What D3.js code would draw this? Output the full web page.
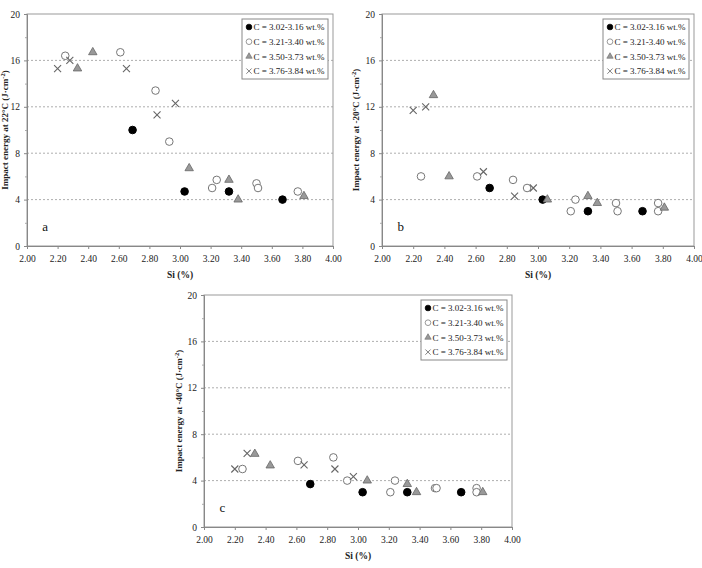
<!DOCTYPE html>
<html>
<head>
<meta charset="utf-8">
<script src="https://cdn.jsdelivr.net/npm/d3@7"></script>
<style>
  body { margin: 0; background: #fff; }
  svg { display: block; font-family: "Liberation Serif", "DejaVu Serif", serif; }
</style>
</head>
<body>
<svg width="702" height="568"></svg>
<script>
// series labels
const seriesNames = ["C = 3.02-3.16 wt.%", "C = 3.21-3.40 wt.%", "C = 3.50-3.73 wt.%", "C = 3.76-3.84 wt.%"];
const xTicks = [2.0, 2.2, 2.4, 2.6, 2.8, 3.0, 3.2, 3.4, 3.6, 3.8, 4.0];
const yTicks = [0, 4, 8, 12, 16, 20];
const yMinor = [2, 6, 10, 14, 18];
const yGrid = [4, 8, 12, 16];

// panel a: 22°C  [Si, energy]
const aLow = [[2.69, 10.0], [3.03, 4.7], [3.32, 4.7], [3.67, 4.0]];
const aMid = [[2.25, 16.4], [2.61, 16.7], [2.84, 13.4], [2.93, 9.0], [3.21, 5.0], [3.24, 5.7], [3.50, 5.4], [3.51, 5.0], [3.77, 4.7]];
const aHigh = [[2.33, 15.3], [2.43, 16.7], [3.06, 6.7], [3.32, 5.7], [3.38, 4.0], [3.81, 4.3]];
const aTop = [[2.20, 15.3], [2.28, 16.0], [2.65, 15.3], [2.85, 11.3], [2.97, 12.3]];

// panel b: -20°C
const bLow = [[2.69, 5.0], [3.03, 4.0], [3.32, 3.0], [3.67, 3.0]];
const bMid = [[2.25, 6.0], [2.61, 6.0], [2.84, 5.7], [2.93, 5.0], [3.21, 3.0], [3.24, 4.0], [3.50, 3.7], [3.51, 3.0], [3.77, 3.7], [3.77, 3.0]];
const bHigh = [[2.33, 13.0], [2.43, 6.0], [3.06, 4.0], [3.32, 4.3], [3.38, 3.7], [3.81, 3.3]];
const bTop = [[2.20, 11.7], [2.28, 12.0], [2.65, 6.4], [2.85, 4.3], [2.97, 5.0]];

// panel c: -40°C
const cLow = [[2.69, 3.7], [3.03, 3.0], [3.32, 3.0], [3.67, 3.0]];
const cMid = [[2.25, 5.0], [2.61, 5.7], [2.84, 6.0], [2.93, 4.0], [3.21, 3.0], [3.24, 4.0], [3.50, 3.35], [3.51, 3.35], [3.77, 3.35], [3.77, 3.0]];
const cHigh = [[2.33, 6.3], [2.43, 5.3], [3.06, 4.0], [3.32, 3.7], [3.38, 3.0], [3.81, 3.0]];
const cTop = [[2.20, 5.0], [2.28, 6.35], [2.65, 5.35], [2.85, 5.0], [2.97, 4.35]];

const panels = [
  { letter: "a", temp: "22", left: 27, top: 14, w: 306, h: 232, series: [aLow, aMid, aHigh, aTop], titleX: 5 },
  { letter: "b", temp: "-20", left: 382, top: 14, w: 312, h: 232, series: [bLow, bMid, bHigh, bTop], titleX: 356 },
  { letter: "c", temp: "-40", left: 204, top: 295, w: 308, h: 232, series: [cLow, cMid, cHigh, cTop], titleX: 179 }
];

const svg = d3.select("svg");
svg.append("rect").attr("width", 702).attr("height", 568).attr("fill", "#fff");

// draws one marker for a given series index at (0,0)
function drawMarker(g, i) {
  if (i === 0) {
    g.append("circle").attr("r", 3.8).attr("fill", "#000").attr("stroke", "#000");
  } else if (i === 1) {
    g.append("circle").attr("r", 3.8).attr("fill", "#fff").attr("stroke", "#777").attr("stroke-width", 1);
  } else if (i === 2) {
    g.append("path").attr("d", d3.symbol(d3.symbolTriangle, 31)())
      .attr("fill", "#999").attr("stroke", "#666").attr("stroke-width", 0.8);
  } else {
    g.append("path").attr("d", "M-3.5,-3.5L3.5,3.5M-3.5,3.5L3.5,-3.5")
      .attr("fill", "none").attr("stroke", "#666").attr("stroke-width", 1.1);
  }
}

panels.forEach(p => {
  const x = d3.scaleLinear().domain([2, 4]).range([0, p.w]);
  const y = d3.scaleLinear().domain([0, 20]).range([p.h, 0]);

  const g = svg.append("g").attr("transform", `translate(${p.left},${p.top})`);

  g.selectAll(".grid")
    .data(yGrid)
    .join("line")
    .attr("x1", 0).attr("x2", p.w)
    .attr("y1", d => y(d)).attr("y2", d => y(d))
    .attr("stroke", "#999")
    .attr("stroke-width", 0.8)
    .attr("stroke-dasharray", "2,2");

  g.append("rect")
    .attr("width", p.w).attr("height", p.h)
    .attr("fill", "none").attr("stroke", "#999").attr("stroke-width", 1);

  const xAxis = g.append("g")
    .attr("transform", `translate(0,${p.h})`)
    .call(d3.axisBottom(x).tickValues(xTicks).tickFormat(d3.format(".2f")).tickSize(3).tickPadding(6));
  xAxis.select(".domain").attr("stroke", "#888");
  xAxis.selectAll(".tick line").attr("stroke", "#888");
  xAxis.selectAll("text").attr("font-size", 9.5).attr("fill", "#222").attr("font-family", "Liberation Serif");

  const yAxis = g.append("g")
    .call(d3.axisLeft(y).tickValues(yTicks).tickSize(3).tickPadding(4));
  yAxis.select(".domain").attr("stroke", "#888");
  yAxis.selectAll(".tick line").attr("stroke", "#888");
  yAxis.selectAll("text").attr("font-size", 9.5).attr("fill", "#222").attr("font-family", "Liberation Serif");

  const yMin = g.append("g")
    .call(d3.axisLeft(y).tickValues(yMinor).tickFormat("").tickSize(2));
  yMin.select(".domain").remove();
  yMin.selectAll(".tick line").attr("stroke", "#aaa");

  // points
  p.series.forEach((pts, i) => {
    pts.forEach(d => {
      const m = g.append("g").attr("transform", `translate(${x(d[0])},${y(d[1])})`);
      drawMarker(m, i);
    });
  });

  // panel letter
  g.append("text")
    .attr("x", x(2.1)).attr("y", y(1.3))
    .attr("font-size", 13)
    .attr("fill", "#111")
    .text(p.letter);

  // legend
  const lg = g.append("g").attr("transform", `translate(${p.w - 91},5)`);
  lg.append("rect").attr("width", 86).attr("height", 60)
    .attr("fill", "#fff").attr("stroke", "#888").attr("stroke-width", 1);
  seriesNames.forEach((name, i) => {
    const row = lg.append("g").attr("transform", `translate(0,${8 + i * 14.7})`);
    const m = row.append("g").attr("transform", "translate(7,0) scale(0.75)");
    drawMarker(m, i);
    row.append("text")
      .attr("x", 11.5).attr("y", 3.3)
      .attr("font-size", 9)
      .attr("fill", "#222")
      .text(name);
  });

  // x title
  g.append("text")
    .attr("x", p.w / 2).attr("y", p.h + 32)
    .attr("text-anchor", "middle")
    .attr("font-size", 9.5)
    .attr("font-weight", "bold")
    .attr("fill", "#222")
    .text("Si (%)");

  // y title
  const yt = svg.append("text")
    .attr("transform", `translate(${p.titleX},${p.top + p.h / 2}) rotate(-90)`)
    .attr("text-anchor", "middle")
    .attr("dy", "0.35em")
    .attr("font-size", 9)
    .attr("font-weight", "bold")
    .attr("fill", "#222");
  yt.append("tspan").text(`Impact energy at ${p.temp}°C (J·cm`);
  yt.append("tspan").attr("dy", -3.5).attr("font-size", 6.5).text("-2");
  yt.append("tspan").attr("dy", 3.5).text(")");
});
</script>
</body>
</html>
